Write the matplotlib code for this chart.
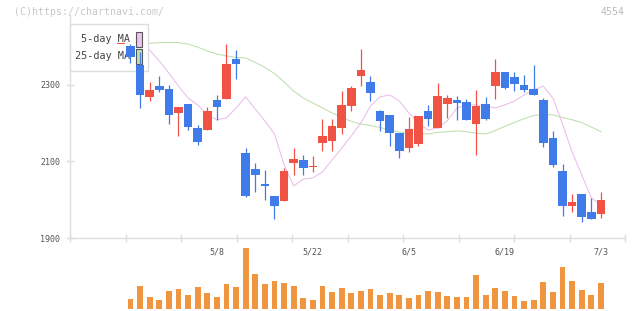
import numpy as np
import matplotlib
matplotlib.use("Agg")
import matplotlib.pyplot as plt
from matplotlib.patches import Rectangle

# daily candles, 2024-04-22 .. 2024-07-03 (trading days)
opens = [2402, 2352, 2269, 2297, 2290, 2227, 2251, 2188, 2182, 2261,
         2264, 2368, 2122, 2080, 2041, 2010, 1997, 2096, 2104, 2085,
         2148, 2154, 2188, 2245, 2324, 2308, 2232, 2222, 2175, 2135,
         2146, 2232, 2188, 2250, 2261, 2256, 2198, 2250, 2297, 2334,
         2321, 2300, 2290, 2261, 2161, 2075, 1984, 2015, 1968, 1963]
highs = [2408, 2387, 2308, 2323, 2300, 2243, 2251, 2195, 2242, 2274,
         2407, 2391, 2135, 2096, 2078, 2010, 2083, 2135, 2117, 2114,
         2211, 2211, 2284, 2297, 2394, 2323, 2235, 2222, 2175, 2216,
         2219, 2248, 2305, 2274, 2271, 2263, 2287, 2269, 2368, 2334,
         2334, 2326, 2352, 2266, 2180, 2093, 2015, 2015, 2004, 2020]
lows = [2358, 2241, 2259, 2283, 2198, 2167, 2182, 2143, 2182, 2208,
        2264, 2316, 2007, 2020, 1999, 1950, 1997, 2065, 2065, 2073,
        2127, 2127, 2172, 2232, 2297, 2258, 2180, 2141, 2109, 2125,
        2141, 2193, 2188, 2214, 2209, 2209, 2117, 2209, 2263, 2290,
        2284, 2282, 2274, 2138, 2086, 1958, 1968, 1942, 1950, 1952]
closes = [2374, 2274, 2287, 2288, 2222, 2243, 2190, 2151, 2232, 2243,
          2355, 2355, 2010, 2065, 2036, 1984, 2075, 2107, 2083, 2086,
          2167, 2193, 2248, 2292, 2339, 2279, 2206, 2175, 2127, 2185,
          2219, 2211, 2271, 2266, 2253, 2209, 2245, 2211, 2334, 2292,
          2303, 2287, 2274, 2148, 2091, 1984, 1994, 1955, 1950, 1999]
prev_close = 2408  # doji just left of the first candle

ma5 = [2431, 2423, 2391, 2363, 2331, 2297, 2266, 2248, 2222, 2209,
       2214, 2240, 2269, 2237, 2206, 2172, 2091, 2036, 2054, 2057,
       2073, 2104, 2135, 2167, 2201, 2245, 2269, 2274, 2258, 2227,
       2201, 2182, 2188, 2206, 2240, 2248, 2248, 2245, 2240, 2248,
       2258, 2274, 2287, 2297, 2266, 2198, 2125, 2065, 2005, 1986]
ma25 = [2408, 2408, 2409, 2411, 2411, 2411, 2407, 2399, 2389, 2381,
        2376, 2372, 2371, 2359, 2346, 2330, 2308, 2284, 2266, 2253,
        2240, 2227, 2215, 2205, 2198, 2194, 2189, 2182, 2177, 2175,
        2173, 2172, 2176, 2178, 2180, 2178, 2174, 2172, 2181, 2192,
        2202, 2212, 2220, 2223, 2222, 2215, 2209, 2202, 2190, 2178]

volumes = [10, 23, 12, 9, 18, 20, 14, 22, 16, 12,
           25, 22, 61, 35, 25, 28, 26, 23, 11, 9,
           23, 17, 21, 16, 18, 20, 14, 16, 14, 11,
           14, 18, 17, 13, 12, 12, 34, 14, 21, 18,
           13, 8, 9, 27, 17, 42, 28, 19, 14, 26]

date_labels = ["5/8", "5/22", "6/5", "6/19", "7/3"]
date_idx = [9, 19, 29, 39, 49]
price_ticks = [1900, 2100, 2300]

RED = "#f05343"
BLUE = "#3f7be9"
ORANGE = "#f09540"
GRID = "#dddddd"
MONO = "DejaVu Sans Mono"

W, H = 640, 311
L, R, T, B = 70, 625, 15, 238

fig = plt.figure(figsize=(W / 100, H / 100), dpi=100)
ax = fig.add_axes([L / W, (H - B) / H, (R - L) / W, (B - T) / H])
vax = fig.add_axes([L / W, (H - 309) / H, (R - L) / W, 63 / H])

x = np.arange(len(opens))
o = np.array(opens)
c = np.array(closes)
up = c >= o
colors = np.where(up, RED, BLUE)
bottoms = np.minimum(o, c)
heights = np.maximum(np.abs(c - o), 2.6)

xlim = (-6.30, 51.51)
ax.vlines(x, lows, highs, colors=colors, lw=0.9, zorder=4)
ax.bar(x, heights, bottom=bottoms, width=0.9, color=colors, zorder=4)
ax.bar(-1, 2.6, bottom=prev_close - 1.3, width=0.9, color=RED, zorder=4)

ax.plot(x, ma25, color="#bde0b0", lw=0.75, zorder=2)
ax.plot(x, ma5, color="#ebbdeb", lw=0.75, zorder=2)

ax.set_xlim(*xlim)
ax.set_ylim(1900, 2483)
ax.set_xticks(np.linspace(xlim[0], xlim[1], 11))
ax.set_xticklabels([])
ax.set_yticks(price_ticks)
ax.set_yticklabels([str(p) for p in price_ticks], fontfamily=MONO,
                   fontsize=6, color="#555555")
ax.tick_params(axis="both", direction="inout", length=6, width=1,
               color=GRID)
ax.tick_params(axis="y", pad=4)
for s in ["top", "right"]:
    ax.spines[s].set_visible(False)
for s in ["left", "bottom"]:
    ax.spines[s].set_color(GRID)
    ax.spines[s].set_linewidth(1)

# date labels under the price panel
for lab, i in zip(date_labels, date_idx):
    ax.annotate(lab, (i, 0), xycoords=("data", "axes fraction"),
                xytext=(0, -14), textcoords="offset pixels",
                ha="center", va="center", fontfamily=MONO, fontsize=6,
                color="#555555", annotation_clip=False)

# legend box, drawn by hand
def frac(px, py):
    return ((px - L) / (R - L), (B - py) / (B - T))

ax.add_patch(Rectangle(frac(70, 71), 78 / (R - L), 47 / (B - T),
                       transform=ax.transAxes, fc="white", ec=GRID,
                       lw=1, zorder=3, clip_on=False))
for label, col, yc in [("5-day MA", "#eec2ee", 39), ("25-day MA", "#bfe1b3", 56)]:
    tx, ty = frac(130, yc)
    ax.text(tx, ty, label, transform=ax.transAxes, ha="right", va="center",
            fontfamily=MONO, fontsize=7.3, color="#444444", zorder=3)
    ax.add_patch(Rectangle(frac(136, yc + 7.5), 6 / (R - L), 15 / (B - T),
                           transform=ax.transAxes, fc=col, ec="#555555",
                           lw=0.8, zorder=3))

# volume panel
vax.bar(x, volumes, width=0.62, color=ORANGE)
vax.set_xlim(*xlim)
vax.set_ylim(0, 63)
vax.axis("off")

fig.text(14 / W, 1 - 12 / H, "(C)https://chartnavi.com/", ha="left",
         va="center", fontfamily=MONO, fontsize=7.1, color="#c8c8c8")
fig.text(625 / W, 1 - 12 / H, "4554", ha="right", va="center",
         fontfamily=MONO, fontsize=7.1, color="#bbbbbb")

fig.savefig("out.png", dpi=100)
